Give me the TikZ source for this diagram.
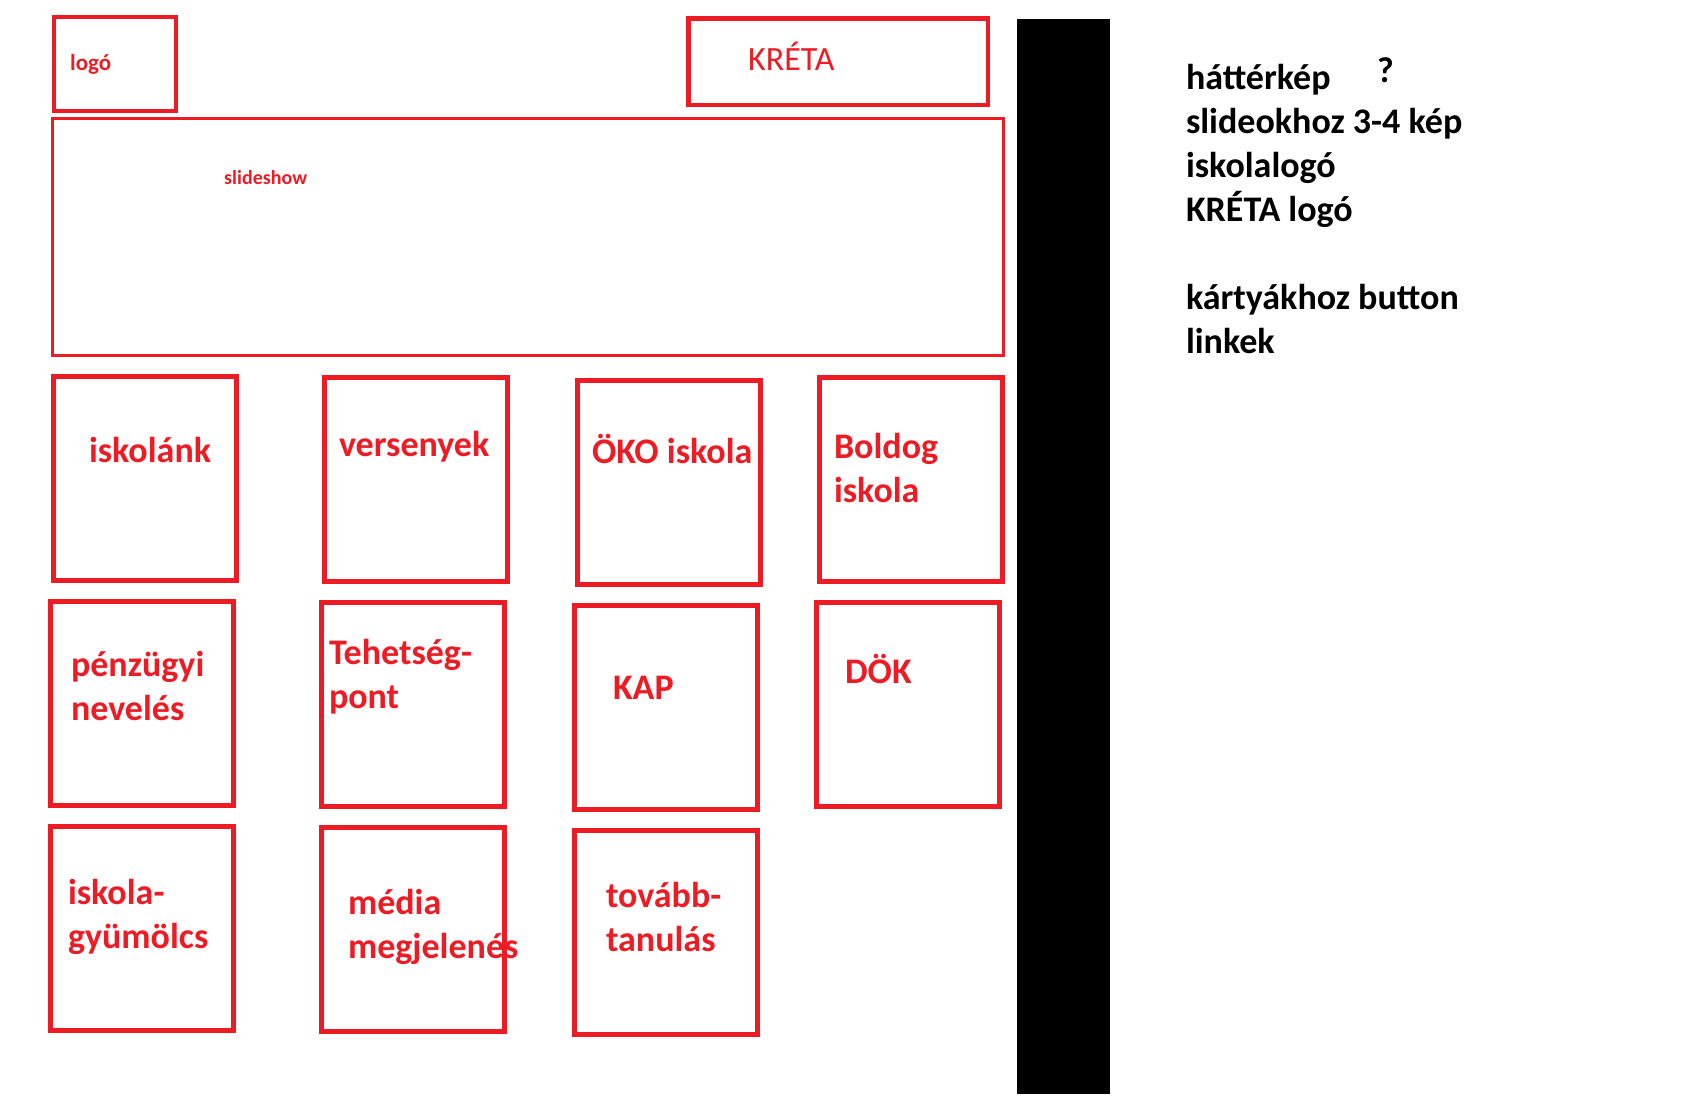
\documentclass[tikz,border=0pt]{standalone}
\usepackage{fontspec}
\setmainfont{Carlito}
\definecolor{pred}{HTML}{ED1C24}
\newcommand{\twoline}[2]{\vtop{\baselineskip=44pt\hbox{#1}\hbox{#2}}}
\tikzset{
  frame/.style={draw=pred, fill=none, inner sep=0pt, outer sep=0pt, rectangle},
  card/.style={frame, line width=5pt, minimum width=183pt, minimum height=204pt},
  redtxt/.style={text=pred, inner sep=0pt, outer sep=0pt, anchor=base west,
    font=\fontsize{36}{44}\selectfont\bfseries},
  blacktxt/.style={text=black, inner sep=0pt, outer sep=0pt, anchor=base west,
    font=\fontsize{36}{44}\selectfont\bfseries},
}
\begin{document}
\begin{tikzpicture}[x=1pt,y=-1pt]
\useasboundingbox[fill=white] (0,0) rectangle (1682,1104);

% header
\node[frame, line width=4pt, minimum width=122pt, minimum height=94pt] (logo) at (115,64) {};
\node[text=pred, inner sep=0pt, anchor=base west, font=\fontsize{23}{27}\selectfont\bfseries] (logotxt) at (70,70) {logó};

\node[frame, line width=4.5pt, minimum width=299.5pt, minimum height=86.5pt] (kreta) at (838,61.5) {};
\node[text=pred, inner sep=0pt, anchor=base west, font=\fontsize{34}{40}\selectfont] (kretatxt) at (748,70) {KRÉTA};

\node[frame, line width=3pt, minimum width=951pt, minimum height=237pt] (slide) at (528,237) {};
\node[text=pred, inner sep=0pt, anchor=base west, font=\fontsize{20}{24}\selectfont\bfseries] (slidetxt) at (224,184) {slideshow};

% black bar
\node[fill=black, draw=none, inner sep=0pt, minimum width=93pt, minimum height=1075pt] (bar) at (1063.5,556.5) {};

% cards
\node[card] (c1) at (145,478.5) {};
\node[card] (c2) at (416,479.5) {};
\node[card] (c3) at (669,482.5) {};
\node[card] (c4) at (911,479.5) {};
\node[card] (c5) at (142,703.5) {};
\node[card] (c6) at (413,704.5) {};
\node[card] (c7) at (666,707.5) {};
\node[card] (c8) at (908,704.5) {};
\node[card] (c9) at (142,928.5) {};
\node[card] (c10) at (413,929.5) {};
\node[card] (c11) at (666,932.5) {};

% card texts
\node[redtxt] (t1) at (89,462.5) {iskolánk};
\node[redtxt] (t2) at (339,456.5) {versenyek};
\node[redtxt] (t3) at (592,463.5) {ÖKO iskola};
\node[redtxt] (t4) at (834,458.5) {\twoline{Boldog}{iskola}};
\node[redtxt] (t5) at (71,676.5) {\twoline{pénzügyi}{nevelés}};
\node[redtxt] (t6) at (329,664.5) {\twoline{Tehetség-}{pont}};
\node[redtxt] (t7) at (613,699.5) {KAP};
\node[redtxt] (t8) at (845,683.5) {DÖK};
\node[redtxt] (t9) at (68,904.5) {\twoline{iskola-}{gyümölcs}};
\node[redtxt] (t10) at (348,914.5) {\twoline{média}{megjelenés}};
\node[redtxt] (t11) at (606,907.5) {\twoline{tovább-}{tanulás}};

% notes
\node[blacktxt] (n1) at (1186,89.5) {háttérkép};
\node[blacktxt] (nq) at (1377,82.5) {?};
\node[blacktxt] (n2) at (1186,133.5) {slideokhoz 3-4 kép};
\node[blacktxt] (n3) at (1186,177.5) {iskolalogó};
\node[blacktxt] (n4) at (1186,221.5) {KRÉTA logó};
\node[blacktxt] (n5) at (1186,309.5) {kártyákhoz button};
\node[blacktxt] (n6) at (1186,353.5) {linkek};
\end{tikzpicture}
\end{document}
